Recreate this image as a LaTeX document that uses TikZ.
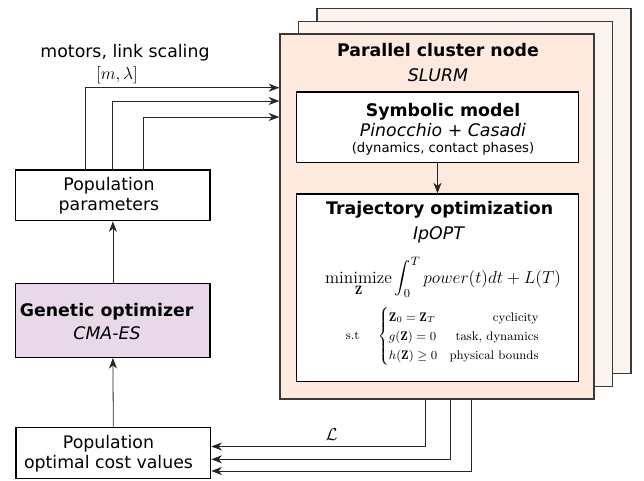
\RequirePackage{fix-cm}
\documentclass[tikz,border=0pt]{standalone}
\usepackage{amsmath}
\usepackage{fontspec}
\newfontfamily\dejavu{DejaVu Sans}
\usetikzlibrary{arrows.meta}
\definecolor{peach}{HTML}{FDE9DE}
\definecolor{peachlight}{HTML}{FEF4EE}
\definecolor{lavender}{HTML}{E8D8EA}
\definecolor{edge}{HTML}{3A3A3A}
\begin{document}
\begin{tikzpicture}[x=0.75pt,y=-0.75pt,
  box/.style={draw=black,line width=1pt,inner sep=0pt},
  clusterbox/.style={draw=edge,line width=1pt,inner sep=0pt},
  lbl/.style={inner sep=0pt,font=\dejavu\fontsize{13}{15}\selectfont},
  ttl/.style={inner sep=0pt,font=\dejavu\bfseries\fontsize{13}{15}\selectfont},
  itl/.style={inner sep=0pt,font=\dejavu\itshape\fontsize{13}{15}\selectfont},
  arr/.style={draw=black!85,line width=0.6pt,-{Stealth[length=8pt,width=6pt,inset=2.5pt]}}]
\useasboundingbox (0,0) rectangle (644,481);
% stacked cluster boxes
\node[clusterbox,fill=peachlight,minimum width=235.5pt,minimum height=273.75pt] (c3) at (474,191.1) {};
\node[clusterbox,fill=peachlight,minimum width=235.5pt,minimum height=273.75pt] (c2) at (455.5,203.8) {};
\node[clusterbox,fill=peach,minimum width=235.5pt,minimum height=273.75pt] (cl) at (437,216.5) {};
\node[ttl] (clt) at (438,50) {Parallel cluster node};
\node[itl] (cls) at (438,75) {SLURM};
% symbolic model
\node[box,fill=white,minimum width=211.5pt,minimum height=52.7pt] (sym) at (437.5,127.2) {};
\node[ttl] (symt) at (443,111.7) {Symbolic model};
\node[itl] (syms) at (443,130) {Pinocchio + Casadi};
\node[inner sep=0pt,font=\dejavu\fontsize{9.9}{12}\selectfont] (symd) at (443,149.3) {(dynamics, contact phases)};
% trajectory optimization
\node[box,fill=white,minimum width=211.5pt,minimum height=140.8pt] (tr) at (437.5,287.9) {};
\node[ttl] (trt) at (439.7,210) {Trajectory optimization};
\node[itl] (trs) at (438.5,235) {IpOPT};
\node[inner sep=0pt,font=\fontsize{13}{15}\selectfont] (tre) at (443,277) {$\displaystyle\mathop{\mathrm{minimize}}\limits_{\mathbf{Z}}\int_0^T power(t)dt+L(T)$};
\node[inner sep=0pt,font=\fontsize{9.3}{11}\selectfont] (trc) at (443,336.5) {s.t\quad\enspace$\left\{\renewcommand{\arraystretch}{1.3}\begin{array}{@{}l@{\quad}r@{}}\mathbf{Z}_0=\mathbf{Z}_T & \text{cyclicity}\\ g(\mathbf{Z})=0 & \text{task, dynamics}\\ h(\mathbf{Z})\geq 0 & \text{physical bounds}\end{array}\right.$};
\draw[arr] (sym.south) -- (tr.north);
% left boxes
\node[box,fill=white,minimum width=145.7pt,minimum height=38pt] (pp) at (112.9,195.3) {};
\node[lbl,align=center] (ppt) at (109,196) {Population\\parameters};
\node[box,fill=lavender,minimum width=145.7pt,minimum height=55.5pt] (go) at (112.9,320.3) {};
\node[ttl] (got) at (106.7,312) {Genetic optimizer};
\node[itl] (gos) at (107,333) {CMA-ES};
\node[box,fill=white,minimum width=146pt,minimum height=38.25pt] (oc) at (113.3,452.8) {};
\node[lbl,align=center] (oct) at (108.5,453.5) {Population\\optimal cost values};
% labels
\node[lbl] (mot) at (125,53) {motors, link scaling};
\node[inner sep=0pt,font=\fontsize{13}{15}\selectfont] (ml) at (117,75.5) {$[m,\lambda]$};
\node[inner sep=0pt,font=\fontsize{13}{15}\selectfont] (cal) at (331.7,435) {$\mathcal{L}$};
% vertical arrows
\draw[arr] (go.north) -- (pp.south);
\draw[arr] (oc.north) -- (go.south);
% input arrows
\draw[arr] (pp.north -| 85.7,0) |- (cl.west |- 0,87.7);
\draw[arr] (pp.north -| 112.7,0) |- (cl.west |- 0,101);
\draw[arr] (pp.north -| 143.3,0) |- (cl.west |- 0,117);
% output arrows
\draw[arr] (cl.south -| 425.5,0) |- (oc.east |- 0,446.5);
\draw[arr] (cl.south -| 450,0) |- (oc.east |- 0,459.3);
\draw[arr] (cl.south -| 471.5,0) |- (oc.east |- 0,471);
\end{tikzpicture}
\end{document}
